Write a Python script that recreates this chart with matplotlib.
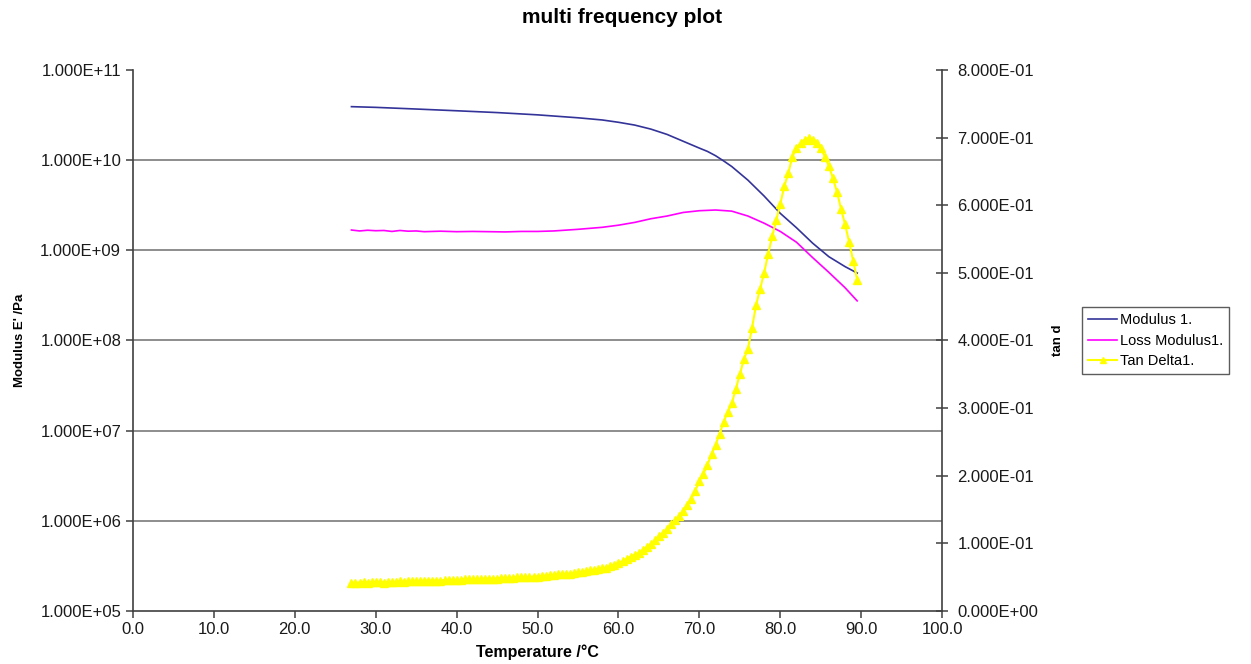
import numpy as np
import matplotlib
matplotlib.use("Agg")
import matplotlib.pyplot as plt
from matplotlib.ticker import FixedLocator, FuncFormatter, NullLocator

plt.rcParams['font.family'] = ['Liberation Sans', 'DejaVu Sans']

# Storage modulus E' (Pa) and loss modulus E'' (Pa) versus temperature (°C)
mod_temp = [27.0, 30.0, 35.0, 40.0, 45.0, 50.0, 55.0, 58.0, 60.0, 62.0, 64.0, 66.0,
            68.0, 70.0, 71.0, 72.0, 73.0, 74.0, 76.0, 78.0, 80.0, 82.0, 84.0, 86.0,
            88.0, 89.5]
storage_modulus = [3.92e10, 3.85e10, 3.69e10, 3.53e10, 3.37e10, 3.18e10, 2.95e10,
                   2.79e10, 2.63e10, 2.45e10, 2.21e10, 1.93e10, 1.62e10, 1.36e10,
                   1.25e10, 1.12e10, 9.8e9, 8.5e9, 6.0e9, 4.0e9, 2.57e9, 1.78e9,
                   1.20e9, 8.5e8, 6.6e8, 5.6e8]

loss_temp = [27.0, 28.0, 29.0, 30.0, 31.0, 32.0, 33.0, 34.0, 35.0, 36.0, 38.0, 40.0,
             42.0, 44.0, 46.0, 48.0, 50.0, 52.0, 55.0, 58.0, 60.0, 62.0, 64.0, 66.0,
             68.0, 70.0, 72.0, 74.0, 76.0, 78.0, 80.0, 82.0, 84.0, 86.0, 88.0, 89.5]
loss_modulus = [1.68e9, 1.64e9, 1.67e9, 1.65e9, 1.66e9, 1.62e9, 1.66e9, 1.63e9,
                1.64e9, 1.61e9, 1.63e9, 1.61e9, 1.62e9, 1.61e9, 1.60e9, 1.62e9,
                1.62e9, 1.64e9, 1.71e9, 1.80e9, 1.90e9, 2.04e9, 2.24e9, 2.40e9,
                2.63e9, 2.75e9, 2.80e9, 2.72e9, 2.40e9, 2.00e9, 1.62e9, 1.23e9,
                8.3e8, 5.7e8, 3.85e8, 2.75e8]

# Loss tangent sampled every 0.5 °C from 27.0 to 89.5 °C
tan_temp = np.arange(27.0, 89.75, 0.5)
tan_delta = [
    0.042, 0.042, 0.042, 0.043, 0.042, 0.043, 0.043, 0.043, 0.042, 0.043,  # 27.0-31.5
    0.043, 0.043, 0.044, 0.043, 0.044, 0.044, 0.044, 0.044, 0.045, 0.045,  # 32.0-36.5
    0.045, 0.045, 0.045, 0.046, 0.046, 0.046, 0.046, 0.046, 0.047, 0.047,  # 37.0-41.5
    0.047, 0.047, 0.047, 0.048, 0.048, 0.048, 0.048, 0.049, 0.049, 0.049,  # 42.0-46.5
    0.049, 0.050, 0.050, 0.050, 0.050, 0.051, 0.051, 0.052, 0.052, 0.053,  # 47.0-51.5
    0.053, 0.054, 0.054, 0.055, 0.055, 0.056, 0.057, 0.058, 0.059, 0.060,  # 52.0-56.5
    0.061, 0.062, 0.063, 0.064, 0.066, 0.068, 0.071, 0.074, 0.077, 0.080,  # 57.0-61.5
    0.083, 0.086, 0.090, 0.095, 0.099, 0.105, 0.111, 0.116, 0.121, 0.128,  # 62.0-66.5
    0.134, 0.141, 0.148, 0.157, 0.166, 0.178, 0.192, 0.203, 0.216, 0.232,  # 67.0-71.5
    0.246, 0.262, 0.280, 0.294, 0.307, 0.328, 0.350, 0.372, 0.388, 0.418,  # 72.0-76.5
    0.452, 0.476, 0.500, 0.528, 0.554, 0.578, 0.602, 0.628, 0.648, 0.672,  # 77.0-81.5
    0.684, 0.692, 0.697, 0.699, 0.697, 0.692, 0.684, 0.672, 0.658, 0.640,  # 82.0-86.5
    0.620, 0.595, 0.572, 0.546, 0.518, 0.490,                              # 87.0-89.5
]

x_ticks = [0, 10, 20, 30, 40, 50, 60, 70, 80, 90, 100]
left_ticks = [1e5, 1e6, 1e7, 1e8, 1e9, 1e10, 1e11]
right_ticks = [0.0, 0.1, 0.2, 0.3, 0.4, 0.5, 0.6, 0.7, 0.8]

fig = plt.figure(figsize=(12.51, 6.64), dpi=100)
ax = fig.add_axes([0.1063, 0.0798, 0.6468, 0.8148])
ax2 = ax.twinx()

axis_col = '#404040'
grid_col = '#858585'

ax.set_yscale('log')
ax.set_xlim(0, 100)
ax.set_ylim(1e5, 1e11)
ax2.set_ylim(0, 0.8)

for lev in left_ticks[1:-1]:
    ax.axhline(lev, color=grid_col, lw=1.3, zorder=0)

ax.plot(mod_temp, storage_modulus, color='#333399', lw=1.2, label='Modulus 1.')
ax.plot(loss_temp, loss_modulus, color='#ff00ff', lw=1.2, label='Loss Modulus1.')
ax2.plot(tan_temp, tan_delta, color='#ffff00', lw=1.5, marker='^', ms=6,
         markeredgecolor='#ffff00', markerfacecolor='#ffff00', label='Tan Delta1.')

ax.xaxis.set_major_locator(FixedLocator(x_ticks))
ax.xaxis.set_major_formatter(FuncFormatter(lambda v, p: f"{v:.1f}"))
ax.yaxis.set_major_locator(FixedLocator(left_ticks))
ax.yaxis.set_minor_locator(NullLocator())


def sci_label(v, p):
    s = f"{v:.3E}"
    mant, exp = s.split('E')
    return f"{mant}E{int(exp):+03d}"


ax.yaxis.set_major_formatter(FuncFormatter(sci_label))
ax2.yaxis.set_major_locator(FixedLocator(right_ticks))
ax2.yaxis.set_major_formatter(FuncFormatter(sci_label))

for a in (ax, ax2):
    a.spines['top'].set_visible(False)
    for s in a.spines.values():
        s.set_color(axis_col)
        s.set_linewidth(1.2)
ax.spines['right'].set_visible(False)
ax2.spines['left'].set_visible(False)
ax2.spines['bottom'].set_visible(False)

ax.tick_params(axis='both', direction='out', length=5, width=1.1, color=axis_col,
               labelsize=12, labelcolor='#1a1a1a')
ax2.tick_params(axis='y', direction='inout', length=8, width=1.1, color=axis_col,
                labelsize=12, labelcolor='#1a1a1a', pad=7)
ax.tick_params(axis='x', pad=3)

ax.set_xlabel('Temperature /°C', fontsize=11.5, fontweight='bold', labelpad=5)
ax.set_ylabel("Modulus E' /Pa", fontsize=9.5, fontweight='bold', labelpad=10)
ax2.set_ylabel('tan d', fontsize=9.5, fontweight='bold', labelpad=10)

fig.suptitle('multi frequency plot', fontsize=15, fontweight='bold', x=0.497, y=0.988)

handles = ax.get_lines()[-2:] + ax2.get_lines()
handles = [h for h in handles if not h.get_label().startswith('_')]
leg = fig.legend(handles=handles, loc='upper left', bbox_to_anchor=(0.865, 0.537),
                 fontsize=10.5, frameon=True, fancybox=False, borderpad=0.4,
                 handlelength=2.0, handletextpad=0.2, labelspacing=0.45,
                 markerscale=0.8, borderaxespad=0)
leg.get_frame().set_edgecolor('#333333')
leg.get_frame().set_linewidth(1.0)

fig.savefig('out.png', dpi=100)
